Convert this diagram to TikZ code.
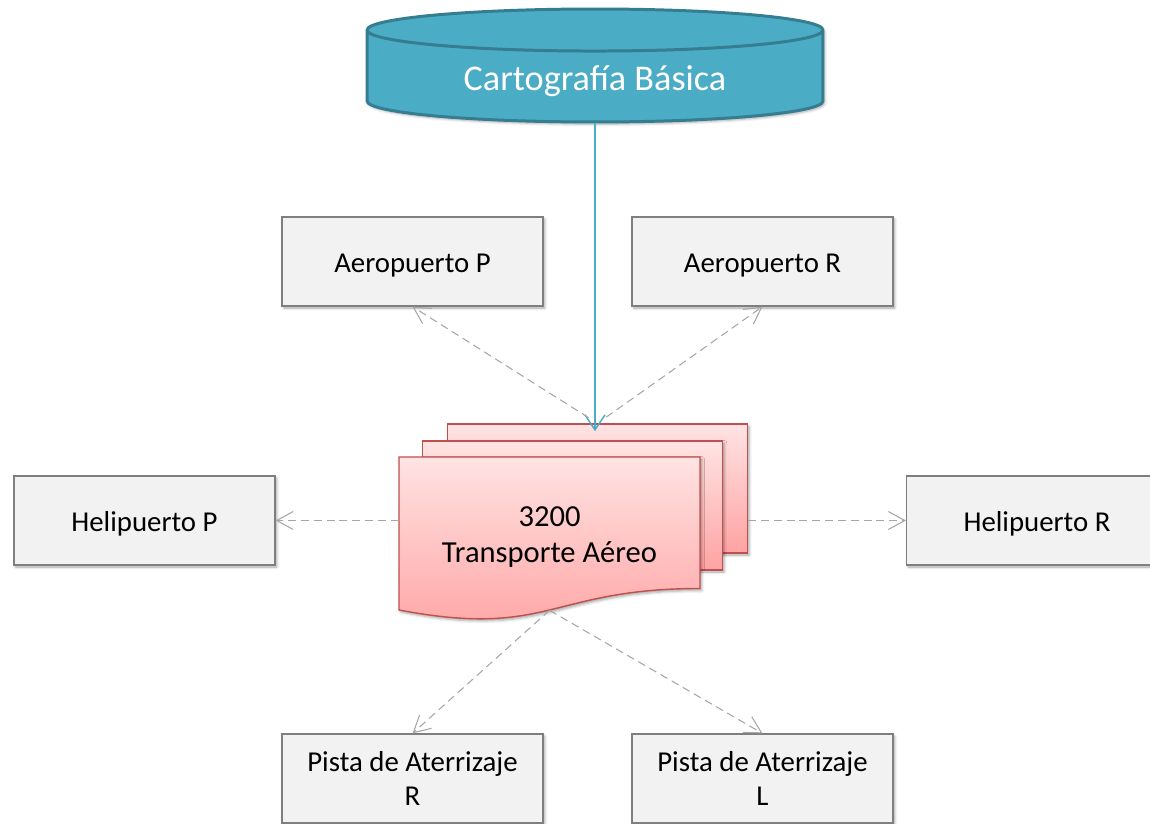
\documentclass[tikz,border=0pt]{standalone}
\usepackage{fontspec}
\setmainfont{Carlito}
\usepackage{xcolor}
\definecolor{cartoFill}{HTML}{4BACC6}
\definecolor{cartoLine}{HTML}{357D91}
\definecolor{boxFill}{HTML}{F2F2F2}
\definecolor{boxLine}{HTML}{7F7F7F}
\definecolor{sheetTop}{HTML}{FFE3E3}
\definecolor{sheetBottom}{HTML}{FFA3A3}
\definecolor{sheetLine}{HTML}{C0504D}
\definecolor{linkGray}{HTML}{A6A6A6}
\usepackage{tikz}
\usetikzlibrary{
    shapes.geometric,
    arrows.meta,
    shadows.blur,
    calc
}
\tikzset{
    % Base style for all texts
    base/.style={
        font=\fontsize{16.4}{19.3}\selectfont,
        align=center,
        text=black,
    },
    % Soft drop shadow
    soft shadow/.style={
        blur shadow={
            shadow xshift=1pt,
            shadow yshift=-1.2pt,
            shadow blur steps=4,
            shadow blur radius=1.5pt,
            shadow opacity=35
        },
    },
    % Data store - flat cylinder
    store/.style={
        base,
        cylinder,
        shape border rotate=90,
        aspect=0.16,
        minimum width=9.12cm,
        minimum height=2.26cm,
        inner sep=0pt,
        text height=20pt,
        text depth=4.2pt,
        draw=cartoLine,
        line width=1.7pt,
        fill=cartoFill,
        text=white,
        font=\fontsize{20.6}{24}\selectfont,
        soft shadow,
    },
    % Gray entity boxes
    entity/.style={
        base,
        rectangle,
        minimum width=5.22cm,
        minimum height=1.78cm,
        inner sep=0pt,
        draw=boxLine,
        line width=0.7pt,
        fill=boxFill,
        soft shadow,
    },
    % Single line entity text
    one line/.style={
        text height=15.8pt,
        text depth=3.3pt,
    },
    % Stacked document sheets
    sheet/.style={
        rectangle,
        minimum width=6cm,
        minimum height=2.58cm,
        draw=sheetLine,
        line width=0.8pt,
        top color=sheetTop,
        bottom color=sheetBottom,
        soft shadow,
    },
    % Front sheet text holder
    sheet text/.style={
        base,
        rectangle,
        minimum width=6.02cm,
        minimum height=2.9cm,
        inner sep=0pt,
        font=\fontsize{17.4}{20.5}\selectfont,
    },
    % Solid feed arrow
    feed/.style={
        -{Straight Barb[length=3mm, width=4mm]},
        line width=0.85pt,
        draw=cartoFill,
    },
    % Dashed relation arrow
    link/.style={
        -{Straight Barb[length=3.3mm, width=3.6mm]},
        line width=0.6pt,
        draw=linkGray,
        dash pattern=on 4.5pt off 2.8pt,
    },
}

\begin{document}
\begin{tikzpicture}[x=0.02cm, y=0.02cm]
    \useasboundingbox (0,0) rectangle (1150,-824);

    \node (carto) [store, anchor=shape center] at (595,-65.5) {Cartografía Básica};

    \node (aeroP) [entity, one line] at (412.5,-261.5) {Aeropuerto P};
    \node (aeroR) [entity, one line] at (762.5,-261.5) {Aeropuerto R};
    \node (heliP) [entity, one line] at (144.5,-520.5) {Helipuerto P};
    \node (heliR) [entity, one line] at (1037,-520.5) {Helipuerto R};
    \node (pistaR) [entity] at (412.5,-778.5) {Pista de Aterrizaje\\R};
    \node (pistaL) [entity] at (762.5,-778.5) {Pista de Aterrizaje\\L};

    \node (pageback) [sheet] at (597.5,-488.5) {};
    \node (pagemid) [sheet] at (572.5,-505.5) {};
    \path [draw=sheetLine, line width=0.8pt, top color=sheetTop, bottom color=sheetBottom, soft shadow]
        (399,-457) -- (700,-457) -- (700,-588.5)
        .. controls (549.5,-588.5) and (549.5,-638.6) .. (399,-610) -- cycle;
    \node (doc) [sheet text] at (549.5,-537.5) {3200\\Transporte Aéreo};

    \draw [feed, shorten >=-4.5pt] (carto.south) -- (carto.south |- pageback.north);
    \draw [link, shorten <=6pt] (pageback.north) -- (aeroP.south);
    \draw [link, shorten <=6pt] (pageback.north) -- (aeroR.south);
    \draw [link] (doc.west |- heliP.east) -- (heliP.east);
    \draw [link] (pageback.east |- heliR.west) -- (heliR.west);
    \draw [link] (doc.south) -- (pistaR.north);
    \draw [link] (doc.south) -- (pistaL.north);
\end{tikzpicture}
\end{document}
